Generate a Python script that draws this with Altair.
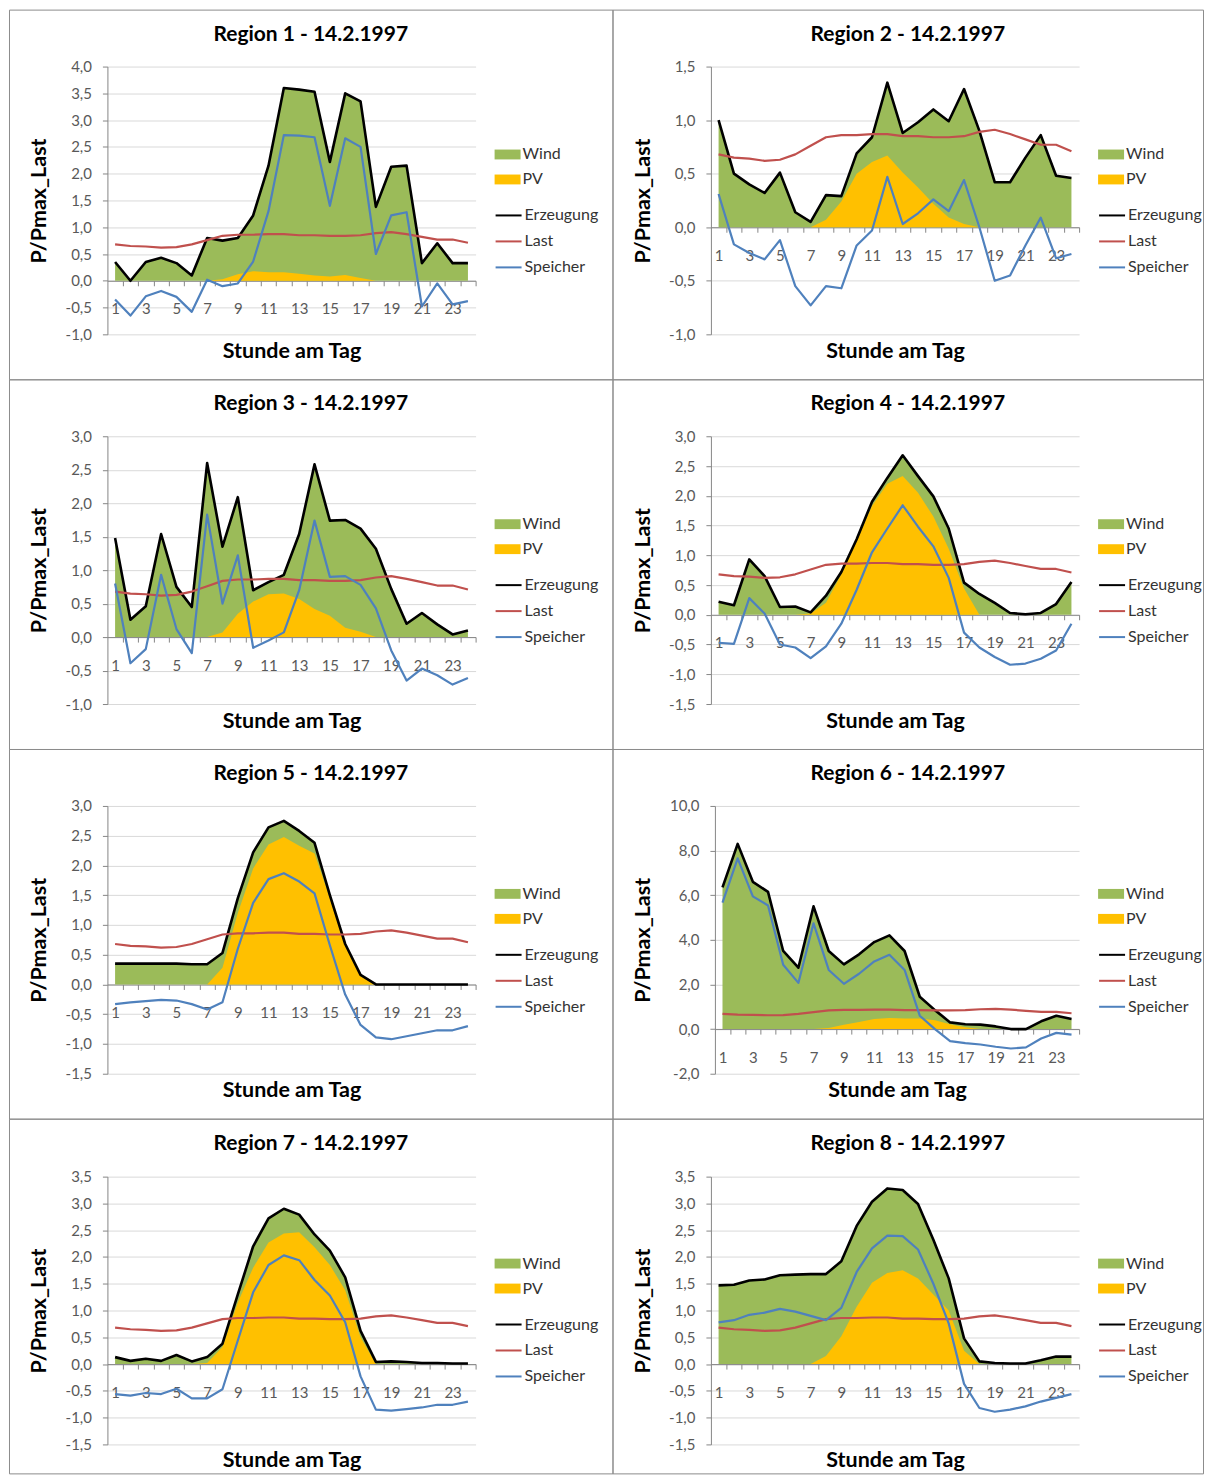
import altair as alt
import pandas as pd

hours = list(range(1, 25))

last = [0.68, 0.65, 0.64, 0.62, 0.63, 0.68, 0.76, 0.84, 0.86, 0.86, 0.87, 0.87,
        0.85, 0.85, 0.84, 0.84, 0.85, 0.89, 0.91, 0.87, 0.82, 0.77, 0.77, 0.71]

erzeugung_r1 = [0.35, 0.00, 0.35, 0.43, 0.33, 0.10, 0.80, 0.75, 0.80, 1.22, 2.15, 3.60,
                3.57, 3.53, 2.22, 3.50, 3.35, 1.38, 2.13, 2.15, 0.33, 0.70, 0.33, 0.33]
pv_r1 = [0, 0, 0, 0, 0, 0, 0, 0.03, 0.12, 0.18, 0.16, 0.16,
         0.13, 0.10, 0.08, 0.11, 0.05, 0, 0, 0, 0, 0, 0, 0]
speicher_r1 = [-0.35, -0.65, -0.29, -0.19, -0.30, -0.58, 0.02, -0.10, -0.05, 0.36, 1.30, 2.72,
               2.71, 2.68, 1.40, 2.66, 2.50, 0.50, 1.22, 1.28, -0.48, -0.05, -0.44, -0.38]

erzeugung_r2 = [1.00, 0.50, 0.40, 0.32, 0.51, 0.14, 0.05, 0.30, 0.29, 0.69, 0.84, 1.35,
                0.88, 0.98, 1.10, 0.99, 1.29, 0.90, 0.42, 0.42, 0.65, 0.86, 0.48, 0.46]
pv_r2 = [0, 0, 0, 0, 0, 0, 0, 0.07, 0.24, 0.50, 0.61, 0.67,
         0.51, 0.37, 0.22, 0.09, 0.03, 0, 0, 0, 0, 0, 0, 0]
speicher_r2 = [0.31, -0.16, -0.24, -0.30, -0.12, -0.55, -0.73, -0.55, -0.57, -0.17, -0.03, 0.47,
               0.03, 0.13, 0.26, 0.15, 0.44, 0.00, -0.50, -0.45, -0.17, 0.09, -0.29, -0.25]

erzeugung_r3 = [1.48, 0.26, 0.46, 1.54, 0.75, 0.45, 2.60, 1.35, 2.09, 0.70, 0.82, 0.93,
                1.54, 2.58, 1.74, 1.75, 1.62, 1.32, 0.72, 0.20, 0.36, 0.19, 0.04, 0.10]
pv_r3 = [0, 0, 0, 0, 0, 0, 0, 0.07, 0.35, 0.53, 0.64, 0.65,
         0.57, 0.42, 0.32, 0.14, 0.08, 0, 0, 0, 0, 0, 0, 0]
speicher_r3 = [0.80, -0.39, -0.18, 0.93, 0.12, -0.24, 1.83, 0.50, 1.22, -0.16, -0.05, 0.07,
               0.70, 1.74, 0.90, 0.91, 0.78, 0.43, -0.20, -0.65, -0.47, -0.57, -0.71, -0.61]

erzeugung_r4 = [0.22, 0.16, 0.93, 0.65, 0.13, 0.14, 0.04, 0.32, 0.72, 1.27, 1.90, 2.30,
                2.68, 2.33, 1.99, 1.45, 0.54, 0.35, 0.20, 0.03, 0.01, 0.03, 0.18, 0.55]
pv_r4 = [0, 0, 0, 0, 0, 0, 0.02, 0.20, 0.68, 1.24, 1.83, 2.20,
         2.33, 2.05, 1.65, 1.11, 0.44, 0, 0, 0, 0, 0, 0, 0]
speicher_r4 = [-0.47, -0.49, 0.28, 0.02, -0.50, -0.55, -0.73, -0.53, -0.15, 0.42, 1.05, 1.45,
               1.84, 1.48, 1.15, 0.62, -0.30, -0.55, -0.71, -0.84, -0.82, -0.74, -0.60, -0.15]

erzeugung_r5 = [0.35, 0.35, 0.35, 0.35, 0.35, 0.34, 0.34, 0.53, 1.45, 2.22, 2.64, 2.75,
                2.58, 2.38, 1.50, 0.68, 0.16, 0.00, 0.00, 0.00, 0.00, 0.00, 0.00, 0.00]
pv_r5 = [0, 0, 0, 0, 0, 0, 0, 0.28, 1.20, 1.95, 2.35, 2.48,
         2.33, 2.20, 1.45, 0.65, 0.15, 0, 0, 0, 0, 0, 0, 0]
speicher_r5 = [-0.33, -0.30, -0.28, -0.26, -0.27, -0.33, -0.42, -0.30, 0.60, 1.37, 1.77, 1.87,
               1.73, 1.53, 0.66, -0.17, -0.68, -0.89, -0.92, -0.87, -0.82, -0.77, -0.77, -0.70]

erzeugung_r6 = [6.35, 8.30, 6.60, 6.15, 3.50, 2.75, 5.50, 3.50, 2.90, 3.35, 3.90, 4.20,
                3.50, 1.45, 0.85, 0.30, 0.22, 0.20, 0.12, 0.00, 0.00, 0.35, 0.60, 0.45]
pv_r6 = [0, 0, 0, 0, 0, 0, 0, 0.05, 0.20, 0.32, 0.45, 0.50,
         0.47, 0.47, 0.40, 0.22, 0.08, 0, 0, 0, 0, 0, 0, 0]
speicher_r6 = [5.67, 7.65, 5.95, 5.54, 2.88, 2.07, 4.74, 2.65, 2.03, 2.48, 3.03, 3.33,
               2.65, 0.60, 0.00, -0.54, -0.63, -0.69, -0.79, -0.87, -0.82, -0.42, -0.17, -0.25]

erzeugung_r7 = [0.13, 0.06, 0.10, 0.06, 0.17, 0.05, 0.13, 0.38, 1.30, 2.20, 2.72, 2.90,
                2.79, 2.42, 2.12, 1.62, 0.62, 0.04, 0.05, 0.04, 0.02, 0.02, 0.01, 0.01]
pv_r7 = [0, 0, 0, 0, 0, 0, 0.02, 0.32, 1.15, 1.80, 2.27, 2.44,
         2.46, 2.18, 1.85, 1.38, 0.50, 0, 0, 0, 0, 0, 0, 0]
speicher_r7 = [-0.56, -0.59, -0.54, -0.56, -0.46, -0.64, -0.64, -0.47, 0.44, 1.34, 1.85, 2.03,
               1.94, 1.57, 1.28, 0.78, -0.23, -0.85, -0.87, -0.84, -0.81, -0.76, -0.76, -0.70]

erzeugung_r8 = [1.47, 1.48, 1.56, 1.58, 1.66, 1.67, 1.68, 1.68, 1.92, 2.58, 3.03, 3.28,
                3.25, 2.99, 2.32, 1.60, 0.48, 0.05, 0.02, 0.01, 0.01, 0.07, 0.14, 0.14]
pv_r8 = [0, 0, 0, 0, 0, 0, 0, 0.15, 0.52, 1.07, 1.52, 1.70,
         1.75, 1.60, 1.30, 1.00, 0.25, 0, 0, 0, 0, 0, 0, 0]
speicher_r8 = [0.78, 0.82, 0.92, 0.96, 1.03, 0.98, 0.90, 0.82, 1.05, 1.72, 2.16, 2.40,
               2.39, 2.14, 1.50, 0.76, -0.37, -0.82, -0.89, -0.85, -0.79, -0.70, -0.63, -0.56]

titles = ["Region 1 - 14.2.1997", "Region 2 - 14.2.1997", "Region 3 - 14.2.1997",
          "Region 4 - 14.2.1997", "Region 5 - 14.2.1997", "Region 6 - 14.2.1997",
          "Region 7 - 14.2.1997", "Region 8 - 14.2.1997"]
y_domains = [[-1, 4], [-1, 1.5], [-1, 3], [-1.5, 3], [-1.5, 3], [-2, 10], [-1.5, 3.5], [-1.5, 3.5]]
y_steps = [0.5, 0.5, 0.5, 0.5, 0.5, 2, 0.5, 0.5]

area_series = ["Wind", "PV"]
line_series = ["Erzeugung", "Last", "Speicher"]
x_axis_title = "Stunde am Tag"
y_axis_title = "P/Pmax_Last"

regions = [
    (erzeugung_r1, pv_r1, speicher_r1), (erzeugung_r2, pv_r2, speicher_r2),
    (erzeugung_r3, pv_r3, speicher_r3), (erzeugung_r4, pv_r4, speicher_r4),
    (erzeugung_r5, pv_r5, speicher_r5), (erzeugung_r6, pv_r6, speicher_r6),
    (erzeugung_r7, pv_r7, speicher_r7), (erzeugung_r8, pv_r8, speicher_r8),
]

# ---- styling / layout ----
GREEN, ORANGE = "#9BBB59", "#FFC000"
BLACK, RED, BLUE = "#000000", "#C0504D", "#4F81BD"
FONT = "Lato"
COL_W = [604, 591]
ROW_H = [370, 370, 370, 355]
X_START = [98.5, 98.5, 98.5, 98.5, 98.5, 102.5, 98.5, 98.5]
X_END = 467
Y_TOP = [57, 57, 57, 58]
Y_BOT = [325, 325, 325, 326]


def tick_values(lo, hi, step):
    n = int(round((hi - lo) / step))
    return [round(lo + k * step, 4) for k in range(n + 1)]


def make_panel(i):
    erz, pv, sp = regions[i]
    col, row = i % 2, i // 2
    w, h = COL_W[col], ROW_H[row]
    x0 = X_START[i]
    yt, yb = Y_TOP[row], Y_BOT[row]
    lo, hi = y_domains[i]
    zero_px = yt + hi / (hi - lo) * (yb - yt)
    half_step = (X_END - x0) / 24 / 2

    area_df = pd.DataFrame({"hour": hours * 2,
                            "kind": ["Wind"] * 24 + ["PV"] * 24,
                            "value": erz + pv})
    line_df = pd.DataFrame({"hour": hours * 3,
                            "series": ["Erzeugung"] * 24 + ["Last"] * 24 + ["Speicher"] * 24,
                            "value": erz + last + sp})

    x = alt.X("hour:Q",
              scale=alt.Scale(domain=[0.5, 24.5], range=[x0, X_END], nice=False, zero=False),
              axis=alt.Axis(title=x_axis_title, values=hours,
                            labelExpr="datum.value % 2 == 1 ? format(datum.value, 'd') : ''",
                            grid=False, tickSize=5, tickOffset=half_step, labelOffset=-half_step,
                            labelPadding=23, labelBaseline="middle", labelFlush=False,
                            labelOverlap=False, offset=zero_px - h,
                            titleX=(x0 + X_END) / 2, titleY=342 - zero_px,
                            titleBaseline="middle", titleAnchor="middle"))
    y = alt.Y("value:Q", stack=None,
              scale=alt.Scale(domain=[lo, hi], range=[yb, yt], nice=False, zero=False),
              axis=alt.Axis(title=y_axis_title, values=tick_values(lo, hi, y_steps[i]),
                            labelExpr="(datum.value < 0 ? '-' : '') + replace(format(abs(datum.value), '.1f'), '.', ',')",
                            grid=True, tickSize=5, labelPadding=11, labelOverlap=False,
                            offset=-x0, titleX=31 - x0, titleY=(yt + yb) / 2,
                            titleBaseline="middle", titleAnchor="middle"))

    fill_enc = alt.Fill("kind:N",
                        scale=alt.Scale(domain=area_series, range=[GREEN, ORANGE]),
                        legend=alt.Legend(title=None, orient="none", legendX=486, legendY=132,
                                          symbolType="M-1,-0.38H1V0.38H-1Z", symbolSize=676,
                                          symbolStrokeWidth=0, labelOffset=2, rowPadding=4,
                                          padding=0))
    stroke_enc = alt.Stroke("series:N",
                            scale=alt.Scale(domain=line_series, range=[BLACK, RED, BLUE]),
                            legend=alt.Legend(title=None, orient="none", legendX=486, legendY=192,
                                              symbolType="stroke", symbolSize=676,
                                              symbolStrokeWidth=2, labelOffset=2, rowPadding=4,
                                              padding=0))

    wind = alt.Chart(area_df).transform_filter("datum.kind == 'Wind'").mark_area(
        opacity=1).encode(x=x, y=y, y2=alt.datum(0), fill=fill_enc)
    pvl = alt.Chart(area_df).transform_filter("datum.kind == 'PV'").mark_area(
        opacity=1).encode(x=x, y=y, y2=alt.datum(0), fill=fill_enc)
    erz_l = alt.Chart(line_df).transform_filter("datum.series == 'Erzeugung'").mark_line(
        strokeWidth=2.6, strokeJoin="round").encode(x=x, y=y, stroke=stroke_enc)
    last_l = alt.Chart(line_df).transform_filter("datum.series == 'Last'").mark_line(
        strokeWidth=2.2, strokeJoin="round").encode(x=x, y=y, stroke=stroke_enc)
    sp_l = alt.Chart(line_df).transform_filter("datum.series == 'Speicher'").mark_line(
        strokeWidth=2.2, strokeJoin="round").encode(x=x, y=y, stroke=stroke_enc)

    return alt.layer(wind, pvl, erz_l, last_l, sp_l).properties(
        width=w, height=h,
        title=alt.Title(titles[i], offset=-35, anchor="middle", fontSize=21,
                        fontWeight="bold", font=FONT, color="#000000"))


panels = [make_panel(i) for i in range(8)]

chart = alt.concat(*panels, columns=2, spacing=0, bounds="flush").resolve_scale(
    x="independent", y="independent", fill="independent", stroke="independent"
).resolve_legend(fill="independent", stroke="independent").properties(
    padding=0, background="white"
).configure(font=FONT).configure_view(
    stroke="#8c8c8c", strokeWidth=1
).configure_axis(
    domainColor="#868686", tickColor="#868686", gridColor="#d9d9d9",
    labelColor="#595959", labelFontSize=15, labelFont=FONT,
    titleFontSize=21.5, titleFontWeight="bold", titleColor="#000000", titleFont=FONT
).configure_legend(
    labelFontSize=16, labelColor="#333333", labelFont=FONT
)

chart.save("out.html", embed_options={"renderer": "svg", "actions": False})
